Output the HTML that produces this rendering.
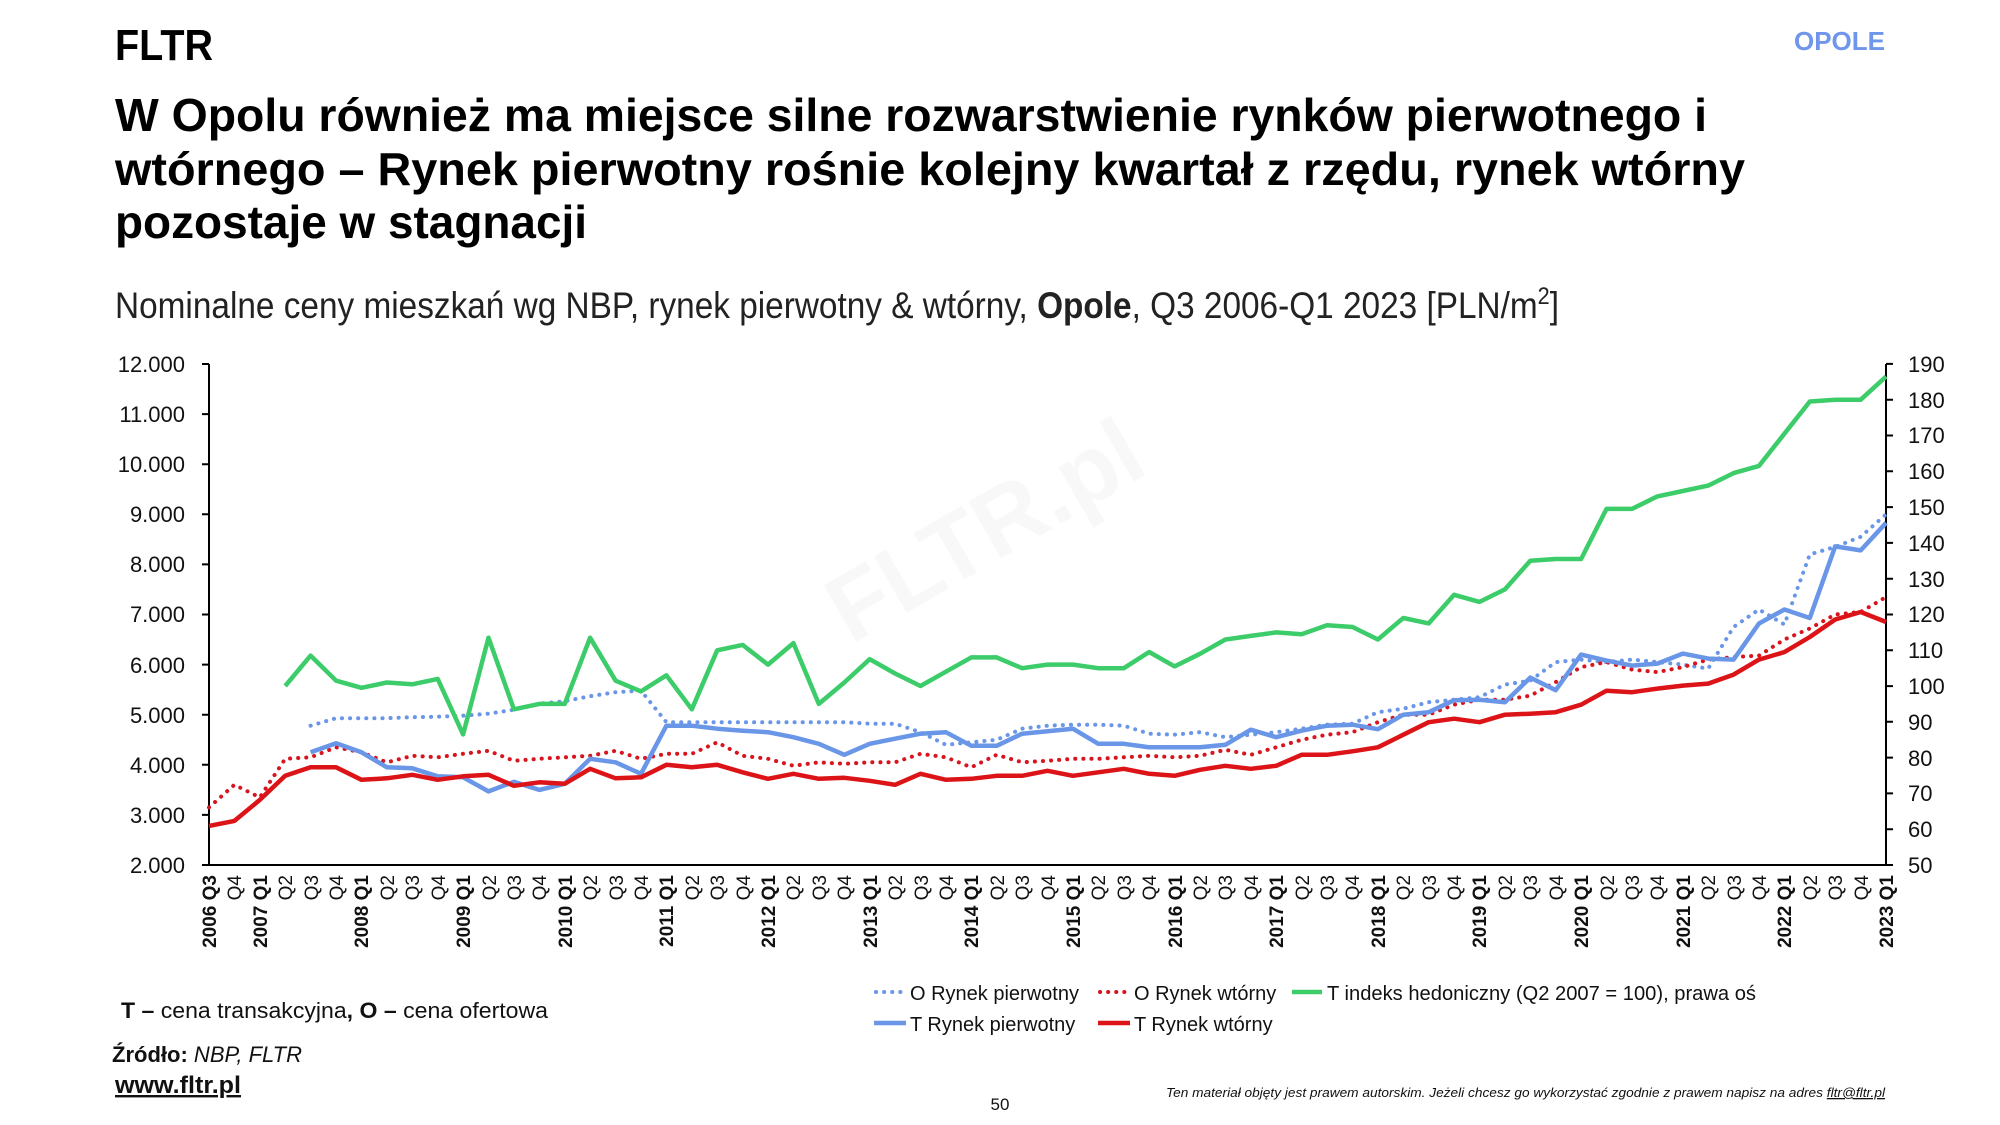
<!DOCTYPE html>
<html><head><meta charset="utf-8"><style>
html,body{margin:0;padding:0;background:#fff;}
svg{display:block;}
text{font-family:"Liberation Sans","DejaVu Sans",sans-serif;}
</style></head><body>
<svg id="s" width="2000" height="1125" viewBox="0 0 2000 1125" xmlns="http://www.w3.org/2000/svg">
<rect width="2000" height="1125" fill="#fff"/>
<text x="115" y="60" font-size="44" font-weight="bold" textLength="98" lengthAdjust="spacingAndGlyphs">FLTR</text>
<text x="1885" y="50" font-size="26" font-weight="bold" fill="#6f96eb" text-anchor="end">OPOLE</text>
<text x="115" y="131" font-size="46" font-weight="bold" textLength="1592" lengthAdjust="spacingAndGlyphs">W Opolu również ma miejsce silne rozwarstwienie rynków pierwotnego i</text>
<text x="115" y="185" font-size="46" font-weight="bold" textLength="1630" lengthAdjust="spacingAndGlyphs">wtórnego – Rynek pierwotny rośnie kolejny kwartał z rzędu, rynek wtórny</text>
<text x="115" y="238" font-size="46" font-weight="bold" textLength="472" lengthAdjust="spacingAndGlyphs">pozostaje w stagnacji</text>
<text x="115" y="318" font-size="37" fill="#222" textLength="1444" lengthAdjust="spacingAndGlyphs">Nominalne ceny mieszkań wg NBP, rynek pierwotny &amp; wtórny, <tspan font-weight="bold">Opole</tspan>, Q3 2006-Q1 2023 [PLN/m<tspan font-size="24" dy="-14">2</tspan><tspan dy="14">]</tspan></text>

<text x="995" y="560" font-size="95" font-weight="bold" fill="#000" opacity="0.025" text-anchor="middle" transform="rotate(-30 995 548)">FLTR.pl</text>

<!-- axes -->
<g stroke="#000" stroke-width="2" fill="none">
<path d="M209 364V865H1886V364"/>
<path d="M202 865H209M202 814.9H209M202 764.8H209M202 714.7H209M202 664.6H209M202 614.5H209M202 564.4H209M202 514.3H209M202 464.2H209M202 414.1H209M202 364H209"/>
<path d="M1886 865H1893M1886 829.2H1893M1886 793.4H1893M1886 757.6H1893M1886 721.8H1893M1886 686.1H1893M1886 650.3H1893M1886 614.5H1893M1886 578.7H1893M1886 542.9H1893M1886 507.1H1893M1886 471.3H1893M1886 435.5H1893M1886 399.7H1893M1886 363.9H1893"/>
</g>
<g font-size="22" text-anchor="end" fill="#111">
<text x="185" y="873">2.000</text><text x="185" y="823">3.000</text><text x="185" y="773">4.000</text><text x="185" y="723">5.000</text><text x="185" y="673">6.000</text><text x="185" y="622">7.000</text><text x="185" y="572">8.000</text><text x="185" y="522">9.000</text><text x="185" y="472">10.000</text><text x="185" y="422">11.000</text><text x="185" y="372">12.000</text>
</g>
<g font-size="22" fill="#111">
<text x="1908" y="873">50</text><text x="1908" y="837">60</text><text x="1908" y="801">70</text><text x="1908" y="766">80</text><text x="1908" y="730">90</text><text x="1908" y="694">100</text><text x="1908" y="658">110</text><text x="1908" y="622">120</text><text x="1908" y="587">130</text><text x="1908" y="551">140</text><text x="1908" y="515">150</text><text x="1908" y="479">160</text><text x="1908" y="443">170</text><text x="1908" y="408">180</text><text x="1908" y="372">190</text>
</g>
<g font-size="19" text-anchor="end" fill="#111">
<text transform="translate(216,875) rotate(-90)" font-weight="bold">2006 Q3</text>
<text transform="translate(241,875) rotate(-90)">Q4</text>
<text transform="translate(267,875) rotate(-90)" font-weight="bold">2007 Q1</text>
<text transform="translate(292,875) rotate(-90)">Q2</text>
<text transform="translate(318,875) rotate(-90)">Q3</text>
<text transform="translate(343,875) rotate(-90)">Q4</text>
<text transform="translate(368,875) rotate(-90)" font-weight="bold">2008 Q1</text>
<text transform="translate(394,875) rotate(-90)">Q2</text>
<text transform="translate(419,875) rotate(-90)">Q3</text>
<text transform="translate(445,875) rotate(-90)">Q4</text>
<text transform="translate(470,875) rotate(-90)" font-weight="bold">2009 Q1</text>
<text transform="translate(496,875) rotate(-90)">Q2</text>
<text transform="translate(521,875) rotate(-90)">Q3</text>
<text transform="translate(546,875) rotate(-90)">Q4</text>
<text transform="translate(572,875) rotate(-90)" font-weight="bold">2010 Q1</text>
<text transform="translate(597,875) rotate(-90)">Q2</text>
<text transform="translate(623,875) rotate(-90)">Q3</text>
<text transform="translate(648,875) rotate(-90)">Q4</text>
<text transform="translate(673,875) rotate(-90)" font-weight="bold">2011 Q1</text>
<text transform="translate(699,875) rotate(-90)">Q2</text>
<text transform="translate(724,875) rotate(-90)">Q3</text>
<text transform="translate(750,875) rotate(-90)">Q4</text>
<text transform="translate(775,875) rotate(-90)" font-weight="bold">2012 Q1</text>
<text transform="translate(800,875) rotate(-90)">Q2</text>
<text transform="translate(826,875) rotate(-90)">Q3</text>
<text transform="translate(851,875) rotate(-90)">Q4</text>
<text transform="translate(877,875) rotate(-90)" font-weight="bold">2013 Q1</text>
<text transform="translate(902,875) rotate(-90)">Q2</text>
<text transform="translate(928,875) rotate(-90)">Q3</text>
<text transform="translate(953,875) rotate(-90)">Q4</text>
<text transform="translate(978,875) rotate(-90)" font-weight="bold">2014 Q1</text>
<text transform="translate(1004,875) rotate(-90)">Q2</text>
<text transform="translate(1029,875) rotate(-90)">Q3</text>
<text transform="translate(1055,875) rotate(-90)">Q4</text>
<text transform="translate(1080,875) rotate(-90)" font-weight="bold">2015 Q1</text>
<text transform="translate(1105,875) rotate(-90)">Q2</text>
<text transform="translate(1131,875) rotate(-90)">Q3</text>
<text transform="translate(1156,875) rotate(-90)">Q4</text>
<text transform="translate(1182,875) rotate(-90)" font-weight="bold">2016 Q1</text>
<text transform="translate(1207,875) rotate(-90)">Q2</text>
<text transform="translate(1232,875) rotate(-90)">Q3</text>
<text transform="translate(1258,875) rotate(-90)">Q4</text>
<text transform="translate(1283,875) rotate(-90)" font-weight="bold">2017 Q1</text>
<text transform="translate(1309,875) rotate(-90)">Q2</text>
<text transform="translate(1334,875) rotate(-90)">Q3</text>
<text transform="translate(1359,875) rotate(-90)">Q4</text>
<text transform="translate(1385,875) rotate(-90)" font-weight="bold">2018 Q1</text>
<text transform="translate(1410,875) rotate(-90)">Q2</text>
<text transform="translate(1436,875) rotate(-90)">Q3</text>
<text transform="translate(1461,875) rotate(-90)">Q4</text>
<text transform="translate(1486,875) rotate(-90)" font-weight="bold">2019 Q1</text>
<text transform="translate(1512,875) rotate(-90)">Q2</text>
<text transform="translate(1537,875) rotate(-90)">Q3</text>
<text transform="translate(1563,875) rotate(-90)">Q4</text>
<text transform="translate(1588,875) rotate(-90)" font-weight="bold">2020 Q1</text>
<text transform="translate(1614,875) rotate(-90)">Q2</text>
<text transform="translate(1639,875) rotate(-90)">Q3</text>
<text transform="translate(1664,875) rotate(-90)">Q4</text>
<text transform="translate(1690,875) rotate(-90)" font-weight="bold">2021 Q1</text>
<text transform="translate(1715,875) rotate(-90)">Q2</text>
<text transform="translate(1741,875) rotate(-90)">Q3</text>
<text transform="translate(1766,875) rotate(-90)">Q4</text>
<text transform="translate(1791,875) rotate(-90)" font-weight="bold">2022 Q1</text>
<text transform="translate(1817,875) rotate(-90)">Q2</text>
<text transform="translate(1842,875) rotate(-90)">Q3</text>
<text transform="translate(1868,875) rotate(-90)">Q4</text>
<text transform="translate(1893,875) rotate(-90)" font-weight="bold">2023 Q1</text>
</g>

<g fill="none" stroke-linejoin="round">
<polyline id="gO" stroke="#6a96e8" stroke-width="4" stroke-dasharray="0.1 8" stroke-linecap="round"/>
<polyline id="rO" stroke="#d8141e" stroke-width="4" stroke-dasharray="0.1 8" stroke-linecap="round"/>
<polyline id="bT" stroke="#6a96e8" stroke-width="4.5"/>
<polyline id="rT" stroke="#dc1418" stroke-width="4.5"/>
<polyline id="gT" stroke="#3dcc6a" stroke-width="4.5"/>
</g>

<!-- legend -->
<g font-size="20" fill="#111">
<line x1="876" y1="992" x2="906" y2="992" stroke="#6a96e8" stroke-width="4" stroke-dasharray="0.1 8" stroke-linecap="round"/>
<text x="910" y="1000">O Rynek pierwotny</text>
<line x1="1100" y1="992" x2="1130" y2="992" stroke="#d8141e" stroke-width="4" stroke-dasharray="0.1 8" stroke-linecap="round"/>
<text x="1134" y="1000">O Rynek wtórny</text>
<line x1="1292" y1="992" x2="1322" y2="992" stroke="#3dcc6a" stroke-width="4.5"/>
<text x="1327" y="1000" textLength="429" lengthAdjust="spacingAndGlyphs">T indeks hedoniczny (Q2 2007 = 100), prawa oś</text>
<line x1="874" y1="1023" x2="906" y2="1023" stroke="#6a96e8" stroke-width="4.5"/>
<text x="910" y="1031">T Rynek pierwotny</text>
<line x1="1098" y1="1023" x2="1130" y2="1023" stroke="#dc1418" stroke-width="4.5"/>
<text x="1134" y="1031">T Rynek wtórny</text>
</g>
<text x="121" y="1018" font-size="22" fill="#111" textLength="427" lengthAdjust="spacingAndGlyphs"><tspan font-weight="bold">T –</tspan> cena transakcyjna<tspan font-weight="bold">, O –</tspan> cena ofertowa</text>
<text x="112" y="1062" font-size="22" fill="#111" textLength="190" lengthAdjust="spacingAndGlyphs"><tspan font-weight="bold">Źródło:</tspan><tspan font-style="italic"> NBP, FLTR</tspan></text>
<text x="115" y="1093" font-size="24" font-weight="bold" fill="#111" text-decoration="underline" textLength="126" lengthAdjust="spacingAndGlyphs">www.fltr.pl</text>
<text x="1000" y="1110" font-size="17" fill="#111" text-anchor="middle">50</text>
<text x="1166" y="1097" font-size="13" font-style="italic" fill="#111" textLength="719" lengthAdjust="spacingAndGlyphs">Ten materiał objęty jest prawem autorskim. Jeżeli chcesz go wykorzystać zgodnie z prawem napisz na adres <tspan text-decoration="underline">fltr@fltr.pl</tspan></text>
</svg>
<script>
var X=function(i){return 209+i*25.41};
var L=function(v){return 865-(v-2)*50.1};
var R=function(r){return 865-(r-50)*3.579};
function set(id,start,arr,f){var p=[];for(var k=0;k<arr.length;k++){p.push(X(start+k).toFixed(1)+','+f(arr[k]).toFixed(1));}document.getElementById(id).setAttribute('points',p.join(' '));}
set('gT',3,[100,108.5,101.5,99.5,101,100.5,102,86.5,113.5,93.5,95,95,113.5,101.5,98.5,103,93.5,110,111.5,106,112,95,101,107.5,103.5,100,104,108,108,105,106,106,105,105,109.5,105.5,109,113,114,115,114.5,117,116.5,113,119,117.5,125.5,123.5,127,135,135.5,135.5,149.5,149.5,153,154.5,156,159.5,161.5,170.5,179.5,180,180,186.5],R);
set('gO',4,[4.78,4.93,4.93,4.93,4.95,4.96,4.98,5.02,5.1,5.22,5.27,5.37,5.45,5.48,4.85,4.85,4.85,4.85,4.85,4.85,4.85,4.85,4.82,4.82,4.65,4.4,4.45,4.5,4.72,4.78,4.8,4.8,4.78,4.62,4.6,4.65,4.55,4.6,4.65,4.72,4.8,4.82,5.05,5.12,5.25,5.3,5.35,5.6,5.68,6.05,6.1,6.05,6.1,6.05,6.0,5.92,6.75,7.1,6.8,8.2,8.35,8.55,9.0],L);
set('bT',4,[4.25,4.43,4.25,3.95,3.93,3.77,3.75,3.47,3.66,3.5,3.62,4.12,4.05,3.82,4.78,4.78,4.72,4.68,4.65,4.55,4.42,4.2,4.42,4.52,4.62,4.65,4.38,4.38,4.62,4.67,4.72,4.42,4.42,4.35,4.35,4.35,4.4,4.7,4.55,4.68,4.78,4.8,4.71,5.0,5.05,5.29,5.3,5.25,5.74,5.49,6.2,6.08,5.98,6.02,6.22,6.12,6.1,6.82,7.1,6.93,8.36,8.28,8.83],L);
set('rO',0,[3.15,3.6,3.35,4.12,4.15,4.35,4.25,4.05,4.18,4.15,4.22,4.28,4.08,4.12,4.15,4.18,4.28,4.12,4.22,4.22,4.45,4.18,4.12,3.98,4.05,4.02,4.05,4.05,4.22,4.15,3.95,4.2,4.05,4.08,4.12,4.12,4.15,4.18,4.15,4.18,4.3,4.2,4.35,4.5,4.6,4.65,4.85,5.0,5.0,5.2,5.3,5.3,5.38,5.65,5.95,6.05,5.9,5.85,5.95,6.1,6.15,6.18,6.5,6.72,7.0,7.05,7.35],L);
set('rT',0,[2.78,2.88,3.3,3.78,3.95,3.95,3.7,3.73,3.8,3.7,3.77,3.8,3.58,3.65,3.62,3.92,3.73,3.75,4.0,3.95,4.0,3.85,3.72,3.82,3.72,3.74,3.68,3.6,3.82,3.7,3.72,3.78,3.78,3.88,3.78,3.85,3.92,3.82,3.78,3.9,3.98,3.92,3.98,4.2,4.2,4.27,4.35,4.6,4.85,4.92,4.85,5.0,5.02,5.05,5.2,5.48,5.45,5.52,5.58,5.62,5.8,6.1,6.25,6.55,6.9,7.05,6.85],L);
</script>
</body></html>
